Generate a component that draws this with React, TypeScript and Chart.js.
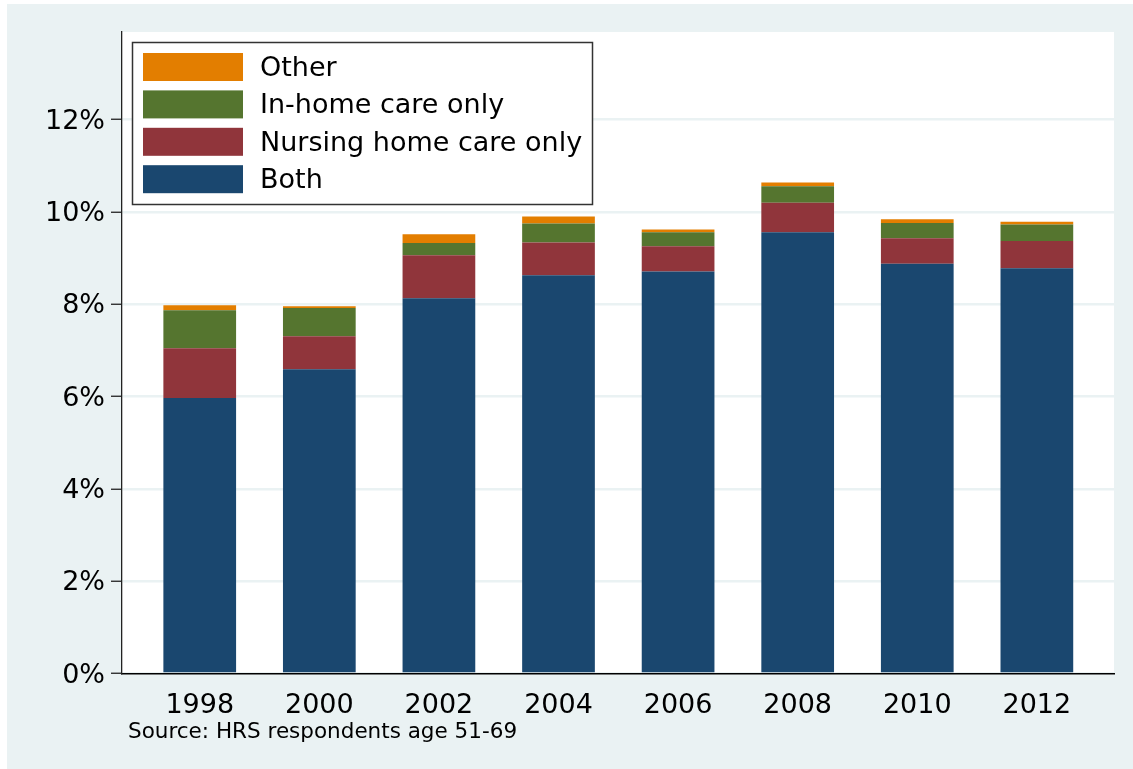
import React, { useEffect, useRef } from "react";
import { Chart, registerables } from "chart.js";

Chart.register(...registerables);

const years = [1998, 2000, 2002, 2004, 2006, 2008, 2010, 2012];
const both = [5.97, 6.59, 8.13, 8.63, 8.71, 9.56, 8.88, 8.78];
const nursingOnly = [1.08, 0.72, 0.93, 0.71, 0.55, 0.64, 0.55, 0.59];
const inHomeOnly = [0.82, 0.61, 0.27, 0.41, 0.30, 0.36, 0.33, 0.36];
const other = [0.11, 0.04, 0.19, 0.15, 0.06, 0.08, 0.08, 0.06];
const yTicks = [0, 2, 4, 6, 8, 10, 12];
const seriesLabels = ["Both", "Nursing home care only", "In-home care only", "Other"];
const seriesColors = ["#1a476f", "#90353b", "#55752f", "#e37e00"];
const sourceNote = "Source: HRS respondents age 51-69";

const FONT = "'DejaVu Sans', Verdana, sans-serif";

export default function App() {
  const ref = useRef<HTMLCanvasElement | null>(null);

  useEffect(() => {
    document.body.style.margin = "0";
    const canvas = ref.current;
    if (!canvas) return;

    const series = [both, nursingOnly, inHomeOnly, other];

    const bgPlugin = {
      id: "bgPlugin",
      beforeDraw(chart: any) {
        const { ctx, width, height, chartArea } = chart;
        ctx.save();
        ctx.fillStyle = "#ffffff";
        ctx.fillRect(0, 0, width, height);
        ctx.fillStyle = "#eaf2f3";
        ctx.fillRect(7, 4, width - 7, height - 4);
        ctx.fillStyle = "#ffffff";
        ctx.fillRect(chartArea.left, chartArea.top, chartArea.right - chartArea.left, chartArea.bottom - chartArea.top);
        ctx.restore();
      },
      afterDraw(chart: any) {
        const { ctx, chartArea } = chart;
        ctx.save();
        const lx = chartArea.left + 10.5;
        const ly = chartArea.top + 10.5;
        ctx.fillStyle = "#ffffff";
        ctx.fillRect(lx, ly, 460, 162);
        ctx.strokeStyle = "#333333";
        ctx.lineWidth = 1.5;
        ctx.strokeRect(lx, ly, 460, 162);
        const ds = chart.data.datasets;
        ctx.font = `27px ${FONT}`;
        ctx.textBaseline = "middle";
        ctx.textAlign = "left";
        for (let i = 0; i < ds.length; i++) {
          const d = ds[ds.length - 1 - i];
          const sy = ly + 10.5 + i * 37.4;
          ctx.fillStyle = d.backgroundColor;
          ctx.fillRect(lx + 10.5, sy, 100, 28);
          ctx.fillStyle = "#000000";
          ctx.fillText(d.label, lx + 127.5, sy + 16);
        }
        ctx.font = `21.5px ${FONT}`;
        ctx.fillStyle = "#000000";
        ctx.fillText(sourceNote, 128, 732);
        ctx.restore();
      },
    };

    const chart = new Chart(canvas, {
      type: "bar",
      data: {
        datasets: series.map((vals, i) => ({
          label: seriesLabels[i],
          data: years.map((yr, j) => ({ x: yr, y: vals[j] })),
          backgroundColor: seriesColors[i],
          borderWidth: 0,
          barPercentage: 0.608,
          categoryPercentage: 1,
        })),
      },
      options: {
        responsive: false,
        animation: false,
        layout: { padding: { left: 0, top: 32, right: 19, bottom: 0 } },
        plugins: {
          legend: { display: false },
          tooltip: { enabled: false },
        },
        scales: {
          x: {
            type: "linear",
            stacked: true,
            offset: false,
            min: 1996.7,
            max: 2013.29,
            afterBuildTicks: (axis: any) => {
              axis.ticks = years.map((v) => ({ value: v }));
            },
            afterFit: (s: any) => {
              s.height = 95.5;
            },
            ticks: {
              font: { family: FONT, size: 27 },
              color: "#000000",
              padding: 16,
              maxRotation: 0,
              autoSkip: false,
              callback: (v: any) => String(v),
            },
            grid: { display: true, drawOnChartArea: false, drawTicks: false },
            border: { display: true, color: "#000000", width: 1.5 },
          },
          y: {
            stacked: true,
            min: 0,
            max: 13.9,
            afterBuildTicks: (axis: any) => {
              axis.ticks = yTicks.map((v) => ({ value: v }));
            },
            afterFit: (s: any) => {
              s.width = 122;
            },
            ticks: {
              font: { family: FONT, size: 27 },
              color: "#000000",
              padding: 6,
              labelOffset: 2,
              callback: (v: any) => `${v}%`,
            },
            grid: {
              color: "#eaf2f3",
              lineWidth: 2.5,
              tickColor: "#222222",
              tickLength: 11,
              tickWidth: 1.3,
            },
            border: { display: true, color: "#222222", width: 1.3 },
          },
        },
      },
      plugins: [bgPlugin],
    });

    return () => chart.destroy();
  }, []);

  return (
    <div style={{ width: 1133, height: 769 }}>
      <canvas ref={ref} width={1133} height={769} style={{ display: "block", width: 1133, height: 769 }} />
    </div>
  );
}
